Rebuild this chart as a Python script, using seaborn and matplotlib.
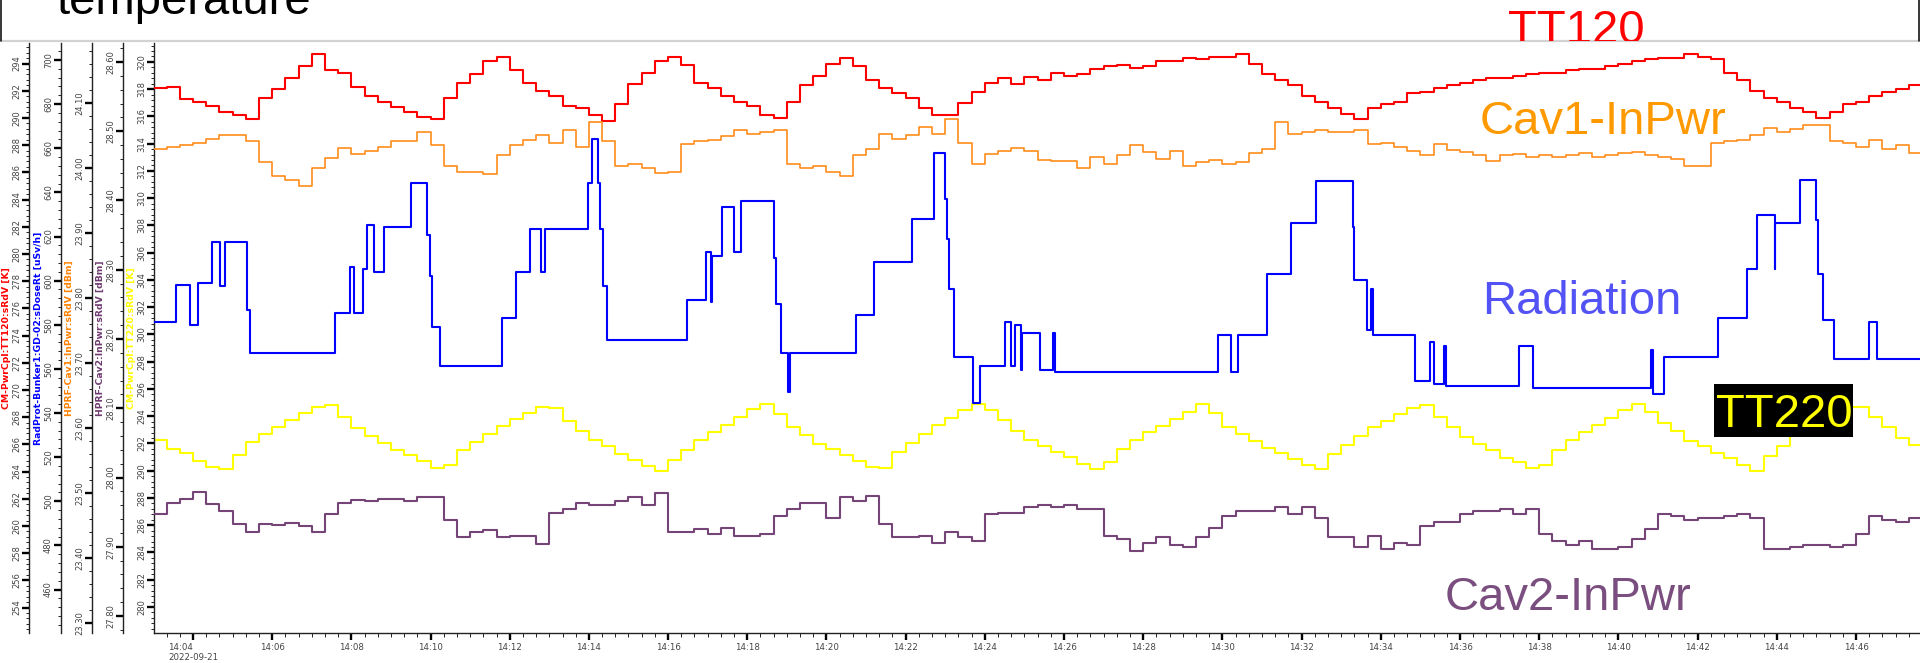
import matplotlib
matplotlib.use("Agg")
import numpy as np
import pandas as pd
import seaborn as sns
import matplotlib.pyplot as plt
import matplotlib.dates as mdates
from matplotlib.patches import Rectangle
from matplotlib.ticker import MultipleLocator, AutoMinorLocator, FormatStrFormatter

# ---------------- data ----------------
date_str = "2022-09-21"
sample_start_s = 180          # 14:03:00, seconds after 14:00
sample_step_s = 20

tt120 = [292.2, 292.3, 291.4, 291.2, 290.9, 290.4, 290.2, 289.9, 291.5, 292.1, 292.9, 293.8, 294.7, 293.5, 293.3, 292.3, 291.6,
         291.2, 290.8, 290.4, 290.1, 289.9, 291.5, 292.6, 293.2, 294.2, 294.5, 293.5, 292.6, 292.0, 291.6, 290.9, 290.7, 290.2,
         289.8, 291.0, 292.5, 293.3, 294.2, 294.5, 293.9, 292.6, 292.2, 291.6, 291.2, 290.9, 290.2, 290.0, 291.2, 292.4, 293.1,
         294.0, 294.4, 293.8, 292.8, 292.2, 291.8, 291.5, 290.7, 290.2, 290.2, 291.1, 291.9, 292.6, 292.9, 292.5, 293.0, 292.8,
         293.3, 293.1, 293.2, 293.6, 293.8, 293.9, 293.7, 293.8, 294.2, 294.2, 294.4, 294.3, 294.5, 294.5, 294.7, 294.0, 293.2,
         292.8, 292.4, 291.6, 291.2, 290.7, 290.3, 289.9, 290.7, 291.0, 291.2, 291.8, 291.9, 292.2, 292.4, 292.6, 292.8, 292.9,
         292.9, 293.1, 293.2, 293.3, 293.3, 293.5, 293.6, 293.6, 293.8, 294.0, 294.2, 294.3, 294.4, 294.4, 294.7, 294.5, 294.3,
         293.3, 292.8, 292.0, 291.5, 291.2, 290.7, 290.4, 290.0, 290.4, 291.0, 291.2, 291.6, 291.9, 292.1, 292.4, 292.4]

cav1 = [24.029, 24.032, 24.035, 24.038, 24.045, 24.050, 24.050, 24.041, 24.009, 23.988, 23.982, 23.973, 24.000, 24.016,
        24.031, 24.022, 24.026, 24.032, 24.041, 24.041, 24.055, 24.035, 24.003, 23.994, 23.994, 23.991, 24.020, 24.035,
        24.043, 24.050, 24.039, 24.059, 24.033, 24.070,
        24.041, 24.003, 24.006, 24.000, 23.992, 23.994, 24.037, 24.041, 24.043, 24.049, 24.059, 24.053, 24.055, 24.059,
        24.006, 24.000, 24.003, 23.994, 23.988, 24.020, 24.029, 24.053, 24.045, 24.050, 24.063, 24.053, 24.076, 24.038,
        24.006, 24.022, 24.026, 24.031, 24.026, 24.013,
        24.010, 24.010, 24.000, 24.017, 24.006, 24.020, 24.035, 24.025, 24.014, 24.026, 24.003, 24.009, 24.013, 24.006,
        24.009, 24.023, 24.029, 24.070, 24.053, 24.056, 24.059, 24.056, 24.056, 24.059, 24.037, 24.038, 24.032, 24.026,
        24.020, 24.037, 24.027, 24.025, 24.020, 24.010,
        24.020, 24.022, 24.017, 24.020, 24.017, 24.020, 24.023, 24.017, 24.020, 24.023, 24.025, 24.020, 24.017, 24.014,
        24.003, 24.003, 24.039, 24.041, 24.043, 24.050, 24.062, 24.056, 24.060, 24.066, 24.066, 24.041, 24.038, 24.032,
        24.043, 24.029, 24.035, 24.023, 24.023]

tt220 = [292.26, 291.61, 291.27, 290.71, 290.29, 290.15, 291.13, 292.12, 292.68, 293.18, 293.72, 294.22, 294.65, 294.79,
         293.94, 293.10, 292.54, 292.06, 291.55, 291.13, 290.71, 290.20, 290.43, 291.55, 292.12, 292.68, 293.30, 293.80,
         294.22, 294.70, 294.59, 293.66, 292.90, 292.26,
         291.78, 291.22, 290.80, 290.37, 290.01, 290.77, 291.55, 292.26, 292.82, 293.32, 293.94, 294.50, 294.93, 294.14,
         293.24, 292.62, 291.98, 291.61, 291.13, 290.71, 290.29, 290.20, 291.41, 292.06, 292.68, 293.38, 293.89, 294.42,
         294.87, 294.42, 293.74, 292.90, 292.26, 291.78,
         291.41, 290.99, 290.49, 290.09, 290.65, 291.61, 292.26, 292.82, 293.30, 293.80, 294.31, 294.87, 294.22, 293.24,
         292.68, 292.17, 291.69, 291.27, 290.85, 290.43, 290.09, 291.22, 291.89, 292.54, 293.18, 293.66, 294.14, 294.59,
         294.79, 293.94, 293.18, 292.45, 291.98, 291.55,
         290.94, 290.65, 290.20, 290.43, 291.50, 292.26, 292.82, 293.38, 293.89, 294.42, 294.87, 294.31, 293.52, 292.90,
         292.17, 291.78, 291.33, 290.94, 290.43, 290.01, 291.05, 291.83, 292.54, 293.24, 293.80, 294.22, 294.70, 294.65,
         293.94, 293.18, 292.40, 291.89, 291.55]

cav2 = [27.947, 27.963, 27.969, 27.979, 27.962, 27.952, 27.933, 27.922, 27.933, 27.931, 27.935, 27.930, 27.922, 27.947,
        27.963, 27.968, 27.966, 27.969, 27.969, 27.966, 27.972, 27.972, 27.938, 27.914, 27.922, 27.924, 27.914, 27.916,
        27.916, 27.904, 27.949, 27.955, 27.963, 27.961,
        27.961, 27.966, 27.972, 27.961, 27.977, 27.922, 27.922, 27.925, 27.919, 27.927, 27.916, 27.916, 27.919, 27.944,
        27.955, 27.963, 27.963, 27.941, 27.972, 27.966, 27.974, 27.933, 27.914, 27.914, 27.916, 27.905, 27.922, 27.914,
        27.908, 27.947, 27.949, 27.949, 27.958, 27.961,
        27.958, 27.961, 27.955, 27.955, 27.916, 27.911, 27.894, 27.905, 27.914, 27.903, 27.900, 27.914, 27.927, 27.944,
        27.952, 27.952, 27.952, 27.958, 27.947, 27.958, 27.941, 27.914, 27.914, 27.900, 27.916, 27.897, 27.905, 27.903,
        27.930, 27.936, 27.936, 27.947, 27.952, 27.952,
        27.955, 27.947, 27.955, 27.919, 27.908, 27.903, 27.908, 27.897, 27.897, 27.900, 27.911, 27.925, 27.947, 27.944,
        27.938, 27.941, 27.941, 27.944, 27.947, 27.941, 27.897, 27.897, 27.900, 27.903, 27.903, 27.900, 27.903, 27.919,
        27.944, 27.938, 27.936, 27.941, 27.941]

# radiation: change instants (s after 14:00) and the value held from then on
rad_t = [181, 214, 236, 247, 269, 281, 288, 322, 326, 456, 478, 484, 498, 503, 514, 530, 570, 594, 599, 603, 614, 709,
         729, 751, 768, 773, 838, 845, 854, 857, 861, 868, 988, 1018, 1025, 1027, 1042, 1060, 1070, 1121, 1124, 1131,
         1141, 1145, 1244, 1272, 1330, 1363, 1380, 1383, 1386, 1393, 1422, 1432, 1471, 1479, 1486, 1494, 1497, 1523,
         1543, 1546, 1794, 1813, 1824, 1868, 1904, 1942, 1998, 2000, 2019, 2025, 2028, 2092, 2114, 2120, 2135, 2139,
         2249, 2270, 2449, 2452, 2469, 2551, 2595, 2610, 2637, 2638, 2675, 2700, 2703, 2710, 2726, 2780, 2792, 2860]
rad_v = [581.3, 598.2, 580.0, 599.1, 617.3, 597.4, 617.3, 586.9, 567.4, 585.2, 606.0, 585.2, 605.1, 625.0, 603.9,
         624.2, 644.1, 620.7, 602.0, 579.2, 561.5, 583.2, 603.9, 623.3, 603.9, 623.3, 644.1, 664.0, 644.1, 623.3,
         597.4, 573.1, 591.3, 612.9, 590.4, 611.2, 633.2, 612.9, 636.3, 610.3, 589.6, 567.4, 549.7, 567.4, 584.4,
         608.3, 628.0, 658.0, 637.2, 619.0, 596.1, 565.3, 544.6, 561.5, 581.3, 561.5, 580.0, 559.3, 576.2, 559.3,
         576.2, 558.4, 575.4, 558.4, 575.4, 603.0, 626.3, 645.0, 624.2, 600.3, 577.4, 596.1, 575.4, 554.4, 572.2,
         553.2, 570.5, 552.3, 570.2, 551.5, 568.4, 548.4, 565.3, 583.2, 605.1, 629.9, 605.1, 626.3, 645.8, 627.7,
         603.0, 582.3, 564.4, 581.3, 564.4, 564.4]

xtick_times = ["14:04", "14:06", "14:08", "14:10", "14:12", "14:14", "14:16", "14:18", "14:20", "14:22", "14:24",
               "14:26", "14:28", "14:30", "14:32", "14:34", "14:36", "14:38", "14:40", "14:42", "14:44", "14:46"]
xtick_labels = ["14:04\n2022-09-21"] + xtick_times[1:]
x_view = ("14:03:01", "14:47:37")

axis_labels = {
    "tt120": "CM-PwrCpl:TT120:sRdV [K]",
    "rad": "RadProt-Bunker1:GD-02:sDoseRt [uSv/h]",
    "cav1": "HPRF-Cav1:InPwr:sRdV [dBm]",
    "cav2": "HPRF-Cav2:InPwr:sRdV [dBm]",
    "tt220": "CM-PwrCpl:TT220:sRdV [K]",
}

# ---------------- style ----------------
sns.set_theme(style="white")
plt.rcParams["font.family"] = ["DejaVu Sans"]

W, H = 1920, 663
fig = plt.figure(figsize=(W / 100, H / 100), dpi=100)
fig.patch.set_facecolor("white")
L, R, T, B = 154, 1920, 43, 633
ax = fig.add_axes([L / W, 1 - B / H, (R - L) / W, (B - T) / H])
ax.set_facecolor("white")

base = pd.Timestamp(f"{date_str} 14:00:00")
times = base + pd.to_timedelta(sample_start_s + sample_step_s * np.arange(len(tt120)), unit="s")
rtimes = base + pd.to_timedelta(rad_t, unit="s")


def px2pt(p):
    return p * 0.72


def style_y(a, ylim, major, fmt, label, lcolor):
    a.set_ylim(*ylim)
    a.yaxis.set_major_locator(MultipleLocator(major))
    a.yaxis.set_minor_locator(AutoMinorLocator(5))
    a.yaxis.set_major_formatter(FormatStrFormatter(fmt))
    a.tick_params(axis="y", which="major", left=True, right=False, direction="out", length=5.2, width=1.7,
                  color="black", labelsize=6.0, labelcolor="#444444", pad=0.6, labelrotation=90)
    a.tick_params(axis="y", which="minor", left=True, right=False, direction="out", length=2.4, width=0.7,
                  color="#222222")
    a.set_ylabel(label, color=lcolor, fontsize=6.7, fontweight="bold", labelpad=1.0)
    for lab in a.get_yticklabels():
        lab.set_va("center")


def make_twin(offset_px):
    a = ax.twinx()
    for s in ("right", "top", "bottom"):
        a.spines[s].set_visible(False)
    a.spines["left"].set_visible(True)
    a.spines["left"].set_position(("outward", px2pt(offset_px)))
    a.spines["left"].set_color("#222222")
    a.spines["left"].set_linewidth(1.0)
    a.yaxis.set_ticks_position("left")
    a.yaxis.set_label_position("left")
    a.patch.set_visible(False)
    return a


# main axis: TT220 (yellow)
sns.lineplot(x=times, y=tt220, ax=ax, color="#FFFF00", linewidth=1.5, drawstyle="steps-post", errorbar=None)
ax.spines["top"].set_visible(False)
ax.spines["right"].set_visible(False)
for s in ("left", "bottom"):
    ax.spines[s].set_color("#222222")
    ax.spines[s].set_linewidth(1.0)

ax_red = make_twin(L - 29)
ax_blue = make_twin(L - 61)
ax_org = make_twin(L - 92)
ax_pur = make_twin(L - 123)

sns.lineplot(x=times, y=tt120, ax=ax_red, color="#FF0000", linewidth=1.5, drawstyle="steps-post", errorbar=None)
sns.lineplot(x=rtimes, y=rad_v, ax=ax_blue, color="#0000FF", linewidth=1.5, drawstyle="steps-post", errorbar=None)
sns.lineplot(x=times, y=cav1, ax=ax_org, color="#FF8C1A", linewidth=1.2, drawstyle="steps-post", errorbar=None)
sns.lineplot(x=times, y=cav2, ax=ax_pur, color="#744576", linewidth=1.5, drawstyle="steps-post", errorbar=None)

style_y(ax, (278.09, 321.39), 2, "%d", axis_labels["tt220"], "#FFFF00")
style_y(ax_red, (252.13, 295.51), 2, "%d", axis_labels["tt120"], "#FF0000")
style_y(ax_blue, (440.3, 707.7), 20, "%d", axis_labels["rad"], "#0000FF")
style_y(ax_org, (23.2846, 24.1923), 0.1, "%.2f", axis_labels["cav1"], "#FF8000")
style_y(ax_pur, (27.7755, 28.6274), 0.1, "%.2f", axis_labels["cav2"], "#6E3A70")

# x axis
ax.set_xlim(pd.Timestamp(f"{date_str} {x_view[0]}"), pd.Timestamp(f"{date_str} {x_view[1]}"))
tick_pos = [pd.Timestamp(f"{date_str} {t}") for t in xtick_times]
ax.set_xticks(mdates.date2num(tick_pos))
ax.set_xticklabels(xtick_labels)
ax.xaxis.set_minor_locator(mdates.SecondLocator(bysecond=[0, 20, 40]))
ax.tick_params(axis="x", which="major", bottom=True, direction="out", length=5.2, width=1.7, color="black",
               labelsize=6.2, labelcolor="#444444", pad=2.0)
ax.tick_params(axis="x", which="minor", bottom=True, direction="out", length=2.6, width=0.7, color="#222222")
for lab in ax.get_xticklabels():
    lab.set_multialignment("left")
ax.set_xlabel("")

# header strip
hdr = fig.add_axes([0, 1 - 41 / H, 1, 41 / H])
hdr.set_xlim(0, W)
hdr.set_ylim(41, 0)
hdr.axis("off")
hdr.plot([0, W], [41, 41], color="#D2D2D2", lw=1.6, clip_on=False, solid_capstyle="butt")
hdr.plot([1.0, 1.0], [0, 41], color="black", lw=1.1, clip_on=False)
hdr.plot([1918.6, 1918.6], [0, 41], color="black", lw=1.1, clip_on=False)
big = dict(fontsize=34, family="Liberation Sans", va="baseline", ha="left")
hdr.text(56, 14, "temperature", color="black", clip_on=True, **big)
hdr.text(1508, 43, "TT120", color="#FF0000", clip_on=True, **big)


# in-plot annotations (figure pixel coordinates)
def ftext(x, y, s, color, **kw):
    fig.text(x / W, 1 - y / H, s, color=color, **big, **kw)


ftext(1480, 134, "Cav1-InPwr", "#FF9900")
ftext(1482, 314, "Radiation", "#5252F5")
fig.patches.append(Rectangle((1714 / W, 1 - 437 / H), 139 / W, 53 / H, transform=fig.transFigure,
                             facecolor="black", edgecolor="none", zorder=5))
ftext(1716, 427, "TT220", "#FFFF00", zorder=6)
ftext(1445, 610, "Cav2-InPwr", "#7A4E7E")

fig.savefig("out.png", dpi=100, facecolor="white")
